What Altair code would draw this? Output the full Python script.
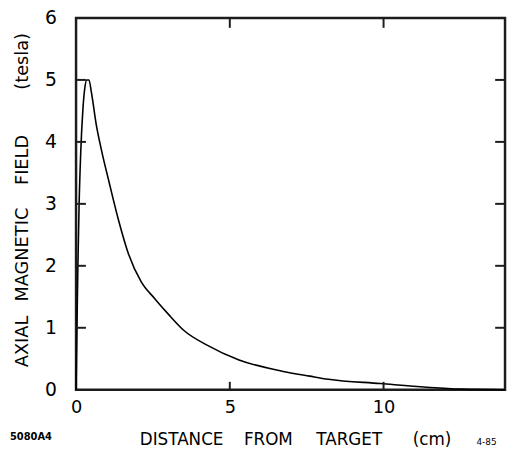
import altair as alt
import pandas as pd

# Curve
dist_cm = [0.0, 0.03, 0.06, 0.10, 0.15, 0.22, 0.28, 0.35, 0.42, 0.50, 0.65, 0.83,
           1.06, 1.38, 1.70, 2.12, 2.56, 3.00, 3.50, 4.26, 5.30, 6.70, 7.60, 8.20,
           9.90, 11.40, 12.50, 13.95]
field_t = [0.0, 1.0, 2.0, 3.0, 3.8, 4.5, 4.85, 5.0, 5.0, 4.8, 4.3, 3.86,
           3.38, 2.74, 2.2, 1.74, 1.47, 1.22, 0.96, 0.72, 0.48, 0.30, 0.22, 0.17,
           0.10, 0.04, 0.01, 0.0]

x_ticks = [0, 5, 10]
y_ticks = [0, 1, 2, 3, 4, 5, 6]
x_inner_ticks = [5, 10]
y_inner_ticks = [1, 2, 3, 4, 5]
x_limits = [0, 13.95]
y_limits = [0, 6]
x_title_words = ["DISTANCE", "FROM", "TARGET", "(cm)"]
y_title_words = ["AXIAL", "MAGNETIC", "FIELD", "(tesla)"]
fig_id = "5080A4"
fig_date = "4-85"

W, H = 435, 377
FONT = "DejaVu Sans"
INK = "#1c1c1c"

curve = pd.DataFrame({"x": dist_cm, "y": field_t})
xs = alt.Scale(domain=x_limits, nice=False, zero=False)
ys = alt.Scale(domain=y_limits, nice=False)

base_x = alt.X("x:Q", scale=xs,
               axis=alt.Axis(values=x_ticks, format="d", title=None, ticks=False, domain=False,
                             grid=False, labelFontSize=18, labelFont=FONT, labelColor="black",
                             labelPadding=9, labelFlush=False))
base_y = alt.Y("y:Q", scale=ys,
               axis=alt.Axis(values=y_ticks, format="d", title=None, ticks=False, domain=False,
                             grid=False, labelFontSize=19, labelFont=FONT, labelColor="black",
                             labelPadding=20, labelFlush=False))

line = alt.Chart(curve).mark_line(color="black", strokeWidth=1.6, interpolate="monotone").encode(
    x=base_x, y=base_y)

# frame drawn as rectangle outline from the axis limits
frame_df = pd.DataFrame({"x": [x_limits[0]], "x2": [x_limits[1]],
                         "y": [y_limits[0]], "y2": [y_limits[1]]})
frame = alt.Chart(frame_df).mark_rect(fill=None, fillOpacity=0, stroke=INK, strokeWidth=2.5).encode(
    x=alt.X("x:Q", scale=xs), x2="x2:Q", y=alt.Y("y:Q", scale=ys), y2="y2:Q")

xt = pd.DataFrame({"x": x_inner_ticks})
yt = pd.DataFrame({"y": y_inner_ticks})
tick_style = dict(color=INK, strokeWidth=2)
top_ticks = alt.Chart(xt).mark_rule(**tick_style).encode(
    x=alt.X("x:Q", scale=xs), y=alt.value(0), y2=alt.value(10))
bot_ticks = alt.Chart(xt).mark_rule(**tick_style).encode(
    x=alt.X("x:Q", scale=xs), y=alt.value(H - 8), y2=alt.value(H))
left_ticks = alt.Chart(yt).mark_rule(**tick_style).encode(
    y=alt.Y("y:Q", scale=ys), x=alt.value(0), x2=alt.value(10))
right_ticks = alt.Chart(yt).mark_rule(**tick_style).encode(
    y=alt.Y("y:Q", scale=ys), x=alt.value(W - 10), x2=alt.value(W))

layers = [frame, line, top_ticks, bot_ticks, left_ticks, right_ticks]

x_pos = [107, 195, 277, 361]
for word, px in zip(x_title_words, x_pos):
    layers.append(alt.Chart(pd.DataFrame({"t": [word]})).mark_text(
        font=FONT, fontSize=17, color="black", align="center", baseline="alphabetic"
    ).encode(text="t:N", x=alt.value(px), y=alt.value(433)))

y_pos = [328, 240, 144, 44]
for word, py in zip(y_title_words, y_pos):
    layers.append(alt.Chart(pd.DataFrame({"t": [word]})).mark_text(
        font=FONT, fontSize=18, color="black", align="center", baseline="middle", angle=270
    ).encode(text="t:N", x=alt.value(-54), y=alt.value(py)))

layers.append(alt.Chart(pd.DataFrame({"t": [fig_id]})).mark_text(
    font=FONT, fontSize=10, fontWeight="bold", color="black", align="left", baseline="alphabetic"
).encode(text="t:N", x=alt.value(-67), y=alt.value(428)))
layers.append(alt.Chart(pd.DataFrame({"t": [fig_date]})).mark_text(
    font=FONT, fontSize=9, color="black", align="left", baseline="alphabetic"
).encode(text="t:N", x=alt.value(406), y=alt.value(433)))

chart = alt.layer(*layers).properties(
    width=W, height=H,
    autosize=alt.AutoSizeParams(type="none"),
    padding={"left": 69, "top": 7, "right": 2, "bottom": 58},
).configure(background="white")

chart.save("out.html", embed_options={"renderer": "svg", "actions": False})
